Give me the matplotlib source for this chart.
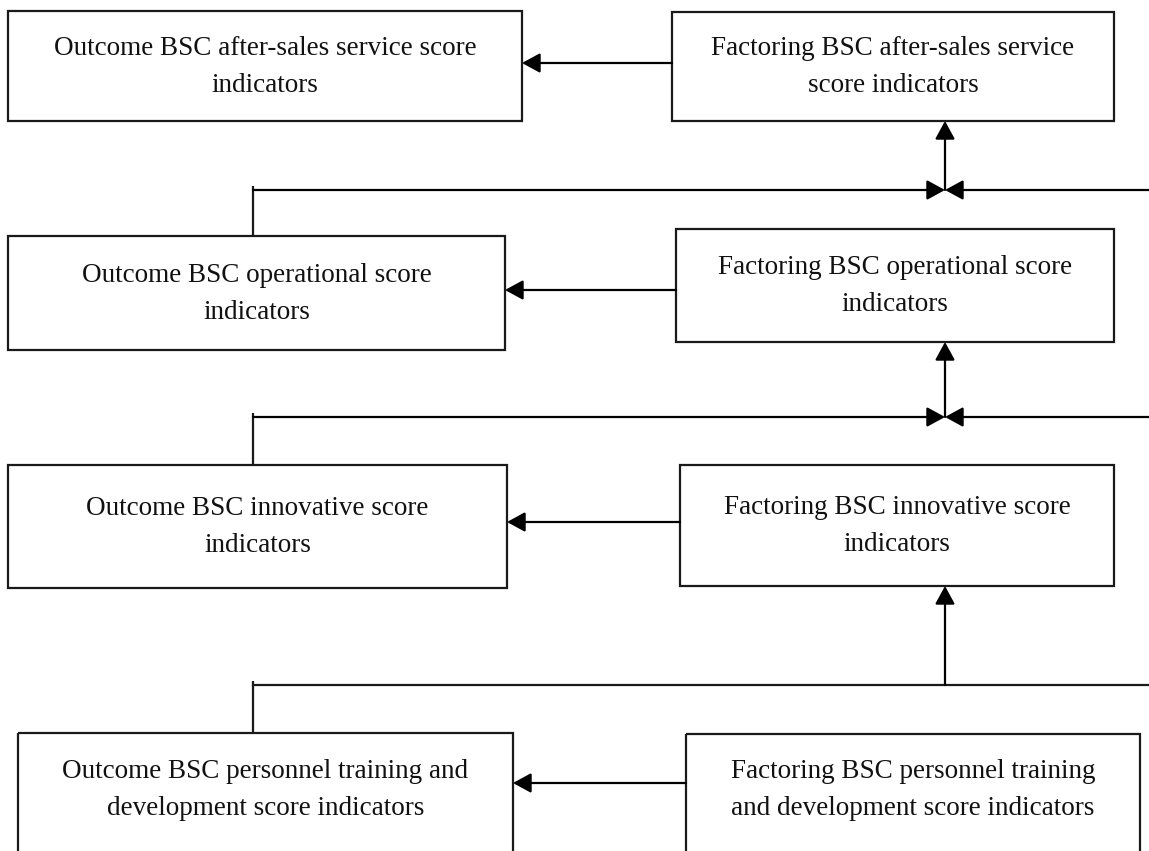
import matplotlib
matplotlib.use("Agg")
import matplotlib.pyplot as plt
from matplotlib.patches import Rectangle

W, H = 1149, 851

outcome_labels = [
    "Outcome BSC after-sales service score\nindicators",
    "Outcome BSC operational score\nindicators",
    "Outcome BSC innovative score\nindicators",
    "Outcome BSC personnel training and\ndevelopment score indicators",
]
factoring_labels = [
    "Factoring BSC after-sales service\nscore indicators",
    "Factoring BSC operational score\nindicators",
    "Factoring BSC innovative score\nindicators",
    "Factoring BSC personnel training\nand development score indicators",
]

# box geometry in pixels: (left, top, right, bottom)
outcome_boxes = [(8, 11, 522, 121), (8, 236, 505, 350), (8, 465, 507, 588), (18, 733, 513, 880)]
factoring_boxes = [(672, 12, 1114, 121), (676, 229, 1114, 342), (680, 465, 1114, 586), (686, 734, 1140, 880)]
text_y_out = [67, 294, 527, 790]
text_y_fac = [67, 286, 526, 790]
arrow_y = [63, 290, 522, 783]
junction_y = [190, 417, 685]
vx_left = 253
vx_right = 945

fig = plt.figure(figsize=(W / 100, H / 100), dpi=100)
ax = fig.add_axes([0, 0, 1, 1])
ax.set_xlim(0, W)
ax.set_ylim(H, 0)
ax.axis("off")

lw = 1.6
col = "#1a1a1a"
font = dict(family="Liberation Serif", fontsize=19.5, color="#111111", linespacing=1.6,
            ha="center", va="center")

for (l, t, r, b), lab, ty in zip(outcome_boxes, outcome_labels, text_y_out):
    ax.add_patch(Rectangle((l, t), r - l, b - t, fill=False, ec=col, lw=lw, clip_on=False))
    ax.text((l + r) / 2, ty, lab, **font)
for (l, t, r, b), lab, ty in zip(factoring_boxes, factoring_labels, text_y_fac):
    ax.add_patch(Rectangle((l, t), r - l, b - t, fill=False, ec=col, lw=lw, clip_on=False))
    ax.text((l + r) / 2, ty, lab, **font)

def arrow(x0, y0, x1, y1):
    ax.annotate("", xy=(x1, y1), xytext=(x0, y0),
                arrowprops=dict(arrowstyle="-|>,head_length=1.1,head_width=0.6",
                                color="black", lw=lw, shrinkA=0, shrinkB=0))

# horizontal arrows factoring -> outcome
for i in range(4):
    arrow(factoring_boxes[i][0], arrow_y[i], outcome_boxes[i][2], arrow_y[i])

# vertical arrows to factoring boxes
for i in range(3):
    arrow(vx_right, junction_y[i], vx_right, factoring_boxes[i][3])

# junction lines
for i in range(3):
    jy = junction_y[i]
    ax.plot([vx_left, vx_left], [jy - 4, outcome_boxes[i + 1][1]], color=col, lw=lw,
            solid_capstyle="butt")
    if i < 2:
        arrow(vx_left, jy, vx_right, jy)
        arrow(W, jy, vx_right, jy)
    else:
        ax.plot([vx_left, W], [jy, jy], color=col, lw=lw)

fig.savefig("out.png", dpi=100, facecolor="white")
